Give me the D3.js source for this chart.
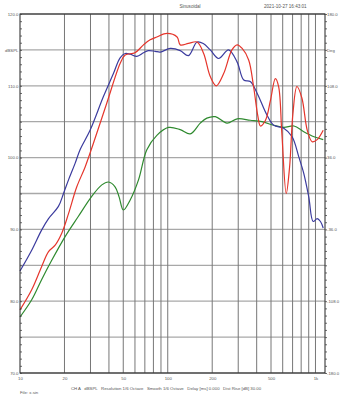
<!DOCTYPE html>
<html>
<head>
<meta charset="utf-8">
<script src="https://cdn.jsdelivr.net/npm/d3@7"></script>
<style>
  body { margin: 0; background: #fff; }
  svg text { font-family: "Liberation Sans", Arial, sans-serif; fill: #555; }
</style>
</head>
<body>
<script>
// values (frequency in Hz, level in dBSPL)
var blueFreq = [10, 12, 14, 15.6, 18.2, 19.7, 21.3, 23.6, 25.5, 29.8, 36.7, 42.9, 47.6, 51.5, 55.7, 61.8, 68.5, 73.8, 82.3, 89, 104, 121.5, 138, 158, 174, 194, 221, 258, 295, 327, 362, 402, 470, 522, 610, 695, 771, 833, 901, 965, 1027, 1081, 1128];
var blueDb = [84.2, 87.1, 89.9, 91.5, 93.2, 95.0, 96.9, 99.2, 101.1, 103.8, 108.5, 111.7, 113.9, 114.5, 114.4, 114.1, 114.6, 114.9, 114.8, 114.7, 115.2, 114.9, 114.2, 116.1, 115.9, 115.0, 113.8, 115.0, 113.3, 110.8, 110.6, 109.0, 105.9, 104.5, 104.1, 102.9, 100.1, 97.8, 94.5, 91.1, 91.5, 91.1, 90.2];

var redFreq = [10, 12, 14, 15.6, 17.3, 19.2, 21.3, 24.2, 27.6, 31.4, 38.7, 47.6, 51.5, 60, 68.5, 76, 84.4, 98.9, 115.7, 121.5, 138, 158, 175, 194, 213, 239, 272, 295, 319, 353, 381, 408, 424, 459, 496, 535, 563, 592, 634, 668, 704, 749, 809, 880, 950, 1027, 1128];
var redDb = [78.8, 81.6, 84.8, 86.9, 87.8, 89.5, 92.2, 95.9, 98.7, 102.0, 107.6, 113.1, 114.3, 114.6, 115.7, 116.4, 116.8, 117.3, 116.8, 115.7, 115.9, 116.1, 114.5, 111.3, 110.0, 111.7, 115.0, 115.7, 115.2, 113.6, 109.9, 105.7, 104.4, 105.2, 108.0, 111.0, 109.9, 103.4, 95.0, 98.7, 106.2, 109.9, 108.3, 103.8, 102.2, 102.5, 103.8];

var greenFreq = [10, 12, 14, 16.4, 20.2, 24.8, 30.6, 35.8, 39.7, 44.1, 46.9, 50.1, 55.7, 63.4, 72.2, 84.4, 101.2, 121.5, 142, 166, 184, 210, 252, 295, 362, 434, 522, 610, 715, 833, 977, 1128];
var greenDb = [77.8, 80.2, 83.0, 85.7, 89.0, 91.8, 94.6, 96.2, 96.6, 95.9, 94.5, 92.7, 94.1, 96.9, 101.1, 103.1, 104.2, 103.9, 103.3, 104.8, 105.5, 105.7, 104.8, 105.4, 105.2, 105.0, 104.5, 104.2, 104.4, 103.6, 102.9, 102.5];

var xLabels = [10, 20, 50, 100, 200, 500, 1000];
var xGrid = [20, 30, 40, 50, 60, 70, 80, 90, 100, 200, 300, 400, 500, 600, 700, 800, 900, 1000];
var yLabels = [70, 80, 90, 100, 110, 115, 120];
var phaseLabels = [-180, -108, -36, 36, 108, 144, 180];

var w = 342, h = 400;
var svg = d3.select("body").append("svg")
    .attr("width", w)
    .attr("height", h);

var x = d3.scaleLog().domain([10, 1160]).range([20, 325]);
var y = d3.scaleLinear().domain([70, 120]).range([373, 14]);
var yR = d3.scaleLinear().domain([-180, 180]).range([373, 14]);

// grid
svg.append("g").selectAll("line")
    .data(d3.range(70, 121, 5))
    .enter().append("line")
    .attr("x1", 20).attr("x2", 325)
    .attr("y1", function(d){ return y(d); })
    .attr("y2", function(d){ return y(d); })
    .attr("stroke", "#a8a8a8")
    .attr("stroke-width", 1.3);

svg.append("g").selectAll("line")
    .data(xGrid)
    .enter().append("line")
    .attr("x1", function(d){ return x(d); })
    .attr("x2", function(d){ return x(d); })
    .attr("y1", 14).attr("y2", 373)
    .attr("stroke", "#777")
    .attr("stroke-width", 1);

// curves
var line = d3.line()
    .x(function(d){ return x(d[0]); })
    .y(function(d){ return y(d[1]); })
    .curve(d3.curveCatmullRom.alpha(0.5));

var series = [
    {f: greenFreq, v: greenDb, c: "#2f8a2f"},
    {f: blueFreq, v: blueDb, c: "#3b3b9e"},
    {f: redFreq, v: redDb, c: "#e5352b"}
];
series.forEach(function(s){
    svg.append("path")
        .datum(d3.zip(s.f, s.v))
        .attr("d", line)
        .attr("fill", "none")
        .attr("stroke", s.c)
        .attr("stroke-width", 1.2);
});

// frame
svg.append("rect")
    .attr("x", 20).attr("y", 14)
    .attr("width", 305).attr("height", 359)
    .attr("fill", "none")
    .attr("stroke", "#222")
    .attr("stroke-width", 1);

// left axis: minor ticks + labels
var leftMinor = svg.append("g").attr("transform", "translate(20,0)")
    .call(d3.axisLeft(y).tickValues(d3.range(70, 121, 1)).tickSize(-2).tickFormat(""));
var leftAx = svg.append("g").attr("transform", "translate(20,0)")
    .call(d3.axisLeft(y).tickValues(yLabels).tickSize(0).tickPadding(1.5)
        .tickFormat(function(d){ return d === 115 ? "dBSPL" : d.toFixed(1); }));

// right axis
var rightMinor = svg.append("g").attr("transform", "translate(325,0)")
    .call(d3.axisRight(yR).tickValues(d3.range(0, 51).map(function(i){ return -180 + i * 7.2; })).tickSize(2).tickFormat(""));
var rightAx = svg.append("g").attr("transform", "translate(325,0)")
    .call(d3.axisRight(yR).tickValues(phaseLabels).tickSize(0).tickPadding(2)
        .tickFormat(function(d){ return d === 144 ? "Deg" : d.toFixed(1); }));

// bottom axis
var bottomAx = svg.append("g").attr("transform", "translate(0,373)")
    .call(d3.axisBottom(x).tickValues(xLabels).tickSize(0).tickPadding(4)
        .tickFormat(function(d){ return d === 1000 ? "1k" : d; }));

[leftMinor, leftAx, rightMinor, rightAx, bottomAx].forEach(function(g){
    g.select(".domain").remove();
    g.selectAll("line").attr("stroke", "#444").attr("stroke-width", 0.8);
    g.selectAll("text").attr("font-size", 4.3).attr("fill", "#555")
        .attr("font-family", "'Liberation Sans', Arial, sans-serif");
});

// header / footer text
svg.append("text").attr("x", 190).attr("y", 8).attr("text-anchor", "middle")
    .attr("font-size", 4.6).text("Sinusoidal");
svg.append("text").attr("x", 264).attr("y", 8)
    .attr("font-size", 4.6).text("2021-10-27 16:43:01");
svg.append("text").attr("x", 166).attr("y", 389.5).attr("text-anchor", "middle")
    .attr("font-size", 4.3).attr("xml:space", "preserve")
    .text("CH A   dBSPL   Resolution 1/6 Octave   Smooth 1/6 Octave   Delay [ms] 0.000   Dist Rise [dB] 30.00");
svg.append("text").attr("x", 20).attr("y", 394)
    .attr("font-size", 4.3).text("File: x.sin");
</script>
</body>
</html>
